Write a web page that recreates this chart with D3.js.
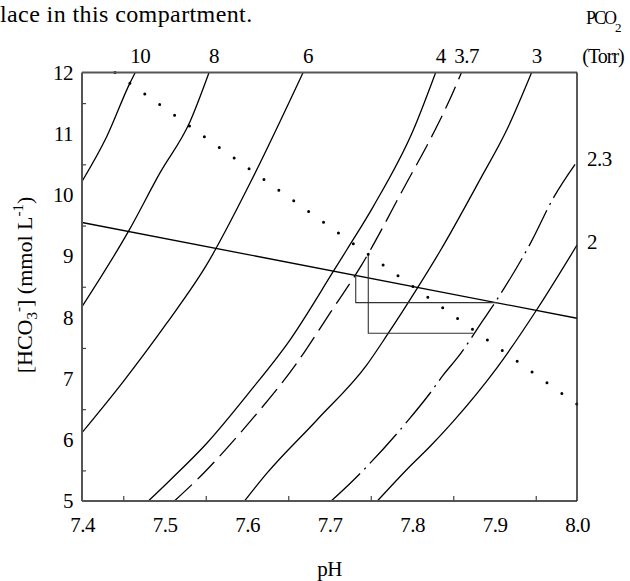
<!DOCTYPE html>
<html>
<head>
<meta charset="utf-8">
<script src="https://cdn.jsdelivr.net/npm/d3@7/dist/d3.min.js"></script>
<style>
  body { margin: 0; background: #fff; }
  svg { display: block; font-family: "Liberation Serif", "Times New Roman", serif; }
</style>
</head>
<body>
<svg id="chart" width="630" height="581"></svg>
<script>
// axis ticks
const phLabels = [7.4, 7.5, 7.6, 7.7, 7.8, 7.9, 8.0];
const phMinor = [7.45, 7.55, 7.65, 7.75, 7.85, 7.95];
const hcoLabels = [5, 6, 7, 8, 9, 10, 11, 12];
const hcoMinor = [5.5, 6.5, 7.5, 8.5, 9.5, 10.5, 11.5];

// PCO2 isopleths, [pH, HCO3-]
const iso10 = [[7.4, 10.22], [7.4299, 10.95], [7.4582, 11.83], [7.4646, 12]];
const iso8 = [[7.4, 8.175], [7.4561, 9.40], [7.4945, 10.36], [7.531, 11.2], [7.554, 12]];
const iso6 = [[7.4, 6.116], [7.45, 6.95], [7.5027, 7.904], [7.551, 8.857], [7.6036, 10.19], [7.668, 12]];
const iso4 = [[7.4804, 5], [7.5067, 5.34], [7.551, 5.94], [7.6036, 6.79], [7.652, 7.63], [7.7046, 8.75],
              [7.7208, 9.10], [7.753, 9.81], [7.8016, 11.06], [7.8287, 12]];
const iso37 = [[7.512, 5], [7.547, 5.45], [7.6036, 6.296], [7.6602, 7.25], [7.7006, 8.07], [7.739, 8.857],
               [7.7935, 10.2], [7.8218, 10.9], [7.8455, 11.55], [7.86, 12]];
const iso3 = [[7.597, 5], [7.6239, 5.45], [7.6845, 6.32], [7.745, 7.22], [7.7693, 7.7], [7.8057, 8.46],
              [7.8339, 9.08], [7.8824, 10.25], [7.9148, 11.06], [7.945, 12]];
const iso23 = [[7.702, 5], [7.7289, 5.34], [7.7955, 6.32], [7.8218, 6.76], [7.838, 7.06], [7.8561, 7.358],
               [7.8864, 7.958], [7.9027, 8.285], [7.944, 9.22], [7.9713, 9.95], [8.0, 10.545]];
const iso2 = [[7.758, 5], [7.797, 5.56], [7.8218, 5.89], [7.85, 6.30], [7.9027, 7.17], [7.951, 8.12], [8.0, 9.18]];

const isoNames = ['10', '8', '6', '4', '3.7', '3', '2.3', '2'];
const isoPoints = [iso10, iso8, iso6, iso4, iso37, iso3, iso23, iso2];
const topLabelled = ['10', '8', '6', '4', '3.7', '3'];
const sideLabelled = ['2.3', '2'];

// other lines
const bufferLine = [[7.4, 9.55], [8.0, 7.985]];
const dottedLine = [[7.44, 12], [8.0, 6.58]];
const dottedCount = 32;
const stepA = [[7.7318, 8.69], [7.7318, 8.24], [7.9027, 8.24]];
const stepB = [[7.747, 9.03], [7.747, 7.741], [7.8743, 7.741]];

const dashFor = { '3.7': '24,8', '2.3': '40,6,2,6' };

const svg = d3.select('#chart');
const mLeft = 82, mRight = 577, mTop = 72.5, mBottom = 501;

const x = d3.scaleLinear().domain([7.4, 8.0]).range([mLeft, mRight]);
const y = d3.scaleLinear().domain([5, 12]).range([mBottom, mTop]);

// text above the figure (cut from the page)
svg.append('text')
    .attr('x', 0).attr('y', 22)
    .style('font-size', '24px')
    .style('letter-spacing', '0.4px')
    .text('lace in this compartment.');

svg.append('clipPath').attr('id', 'plot-clip')
    .append('rect')
    .attr('x', mLeft).attr('y', mTop)
    .attr('width', mRight - mLeft).attr('height', mBottom - mTop);

const plot = svg.append('g').attr('clip-path', 'url(#plot-clip)');

const line = d3.line().x(d => x(d[0])).y(d => y(d[1]));
const smooth = d3.line().x(d => x(d[0])).y(d => y(d[1])).curve(d3.curveMonotoneX);

isoNames.forEach((name, i) => {
  plot.append('path')
      .attr('d', smooth(isoPoints[i]))
      .attr('fill', 'none')
      .attr('stroke', '#000')
      .attr('stroke-width', 1.3)
      .attr('stroke-dasharray', dashFor[name] || null);
});

plot.append('path')
    .attr('d', line(bufferLine))
    .attr('fill', 'none')
    .attr('stroke', '#000')
    .attr('stroke-width', 1.3);

[stepA, stepB].forEach(s => {
  plot.append('path')
      .attr('d', line(s))
      .attr('fill', 'none')
      .attr('stroke', '#333')
      .attr('stroke-width', 1.1);
});

const dots = svg.append('path')
    .attr('d', line(dottedLine))
    .attr('fill', 'none')
    .attr('stroke', '#000')
    .attr('stroke-width', 3)
    .attr('stroke-linecap', 'round');
const len = dots.node().getTotalLength();
dots.attr('stroke-dasharray', '0,' + (len / (dottedCount - 1) - 0.01));

// frame
svg.append('line').attr('x1', mLeft).attr('x2', mRight).attr('y1', mTop).attr('y2', mTop)
    .attr('stroke', '#555').attr('stroke-width', 2);
svg.append('line').attr('x1', mLeft).attr('x2', mRight).attr('y1', mBottom).attr('y2', mBottom)
    .attr('stroke', '#555').attr('stroke-width', 2);
svg.append('line').attr('x1', mLeft).attr('x2', mLeft).attr('y1', mTop).attr('y2', mBottom)
    .attr('stroke', '#555').attr('stroke-width', 2);
svg.append('line').attr('x1', mRight).attr('x2', mRight).attr('y1', mTop).attr('y2', mBottom)
    .attr('stroke', '#222').attr('stroke-width', 1.5);

// axes: minor ticks inside, labels outside
const xTicks = svg.append('g').attr('transform', `translate(0,${mBottom})`)
    .call(d3.axisBottom(x).tickValues(phMinor).tickSize(-5).tickFormat(''));
const xLabels = svg.append('g').attr('transform', `translate(0,${mBottom})`)
    .call(d3.axisBottom(x).tickValues(phLabels).tickSize(0).tickPadding(16).tickFormat(d3.format('.1f')));
const yTicks = svg.append('g').attr('transform', `translate(${mLeft},0)`)
    .call(d3.axisLeft(y).tickValues(hcoMinor).tickSize(-4).tickFormat(''));
const yLabels = svg.append('g').attr('transform', `translate(${mLeft},0)`)
    .call(d3.axisLeft(y).tickValues(hcoLabels).tickSize(0).tickPadding(9).tickFormat(d3.format('d')));

[xTicks, xLabels, yTicks, yLabels].forEach(g => {
  g.select('.domain').remove();
  g.selectAll('line').attr('stroke', '#444').attr('stroke-width', 1.2);
  g.selectAll('text')
      .attr('fill', '#000')
      .style('font-family', '"Liberation Serif", serif')
      .style('font-size', '21px')
      .style('letter-spacing', '-0.5px');
});

// PCO2 labels on the isopleths
topLabelled.forEach(name => {
  const pts = isoPoints[isoNames.indexOf(name)];
  const end = pts[pts.length - 1];
  svg.append('text')
      .attr('x', x(end[0]) + 5).attr('y', mTop - 10)
      .attr('text-anchor', 'middle')
      .style('font-size', '21px')
      .style('letter-spacing', '-0.5px')
      .text(name);
});
sideLabelled.forEach(name => {
  const pts = isoPoints[isoNames.indexOf(name)];
  const end = pts[pts.length - 1];
  svg.append('text')
      .attr('x', mRight + 10).attr('y', y(end[1]) + 4)
      .style('font-size', '21px')
      .style('letter-spacing', '-0.5px')
      .text(name);
});

svg.append('text')
    .attr('x', mRight + 26).attr('y', mTop - 10)
    .attr('text-anchor', 'middle')
    .style('font-size', '20px')
    .style('letter-spacing', '-1px')
    .text('(Torr)');

const pco = svg.append('text')
    .attr('x', 586).attr('y', 24)
    .style('font-size', '18px')
    .style('letter-spacing', '-2px');
pco.append('tspan').text('PCO');
pco.append('tspan').attr('dy', 8).style('font-size', '13px').text('2');

// axis titles
svg.append('text')
    .attr('x', (mLeft + mRight) / 2).attr('y', 576)
    .attr('text-anchor', 'middle')
    .style('font-size', '21px')
    .style('letter-spacing', '-0.5px')
    .text('pH');

const yTitle = svg.append('text')
    .attr('transform', 'translate(32,285) rotate(-90)')
    .attr('text-anchor', 'middle')
    .style('font-size', '22px');
yTitle.append('tspan').text('[HCO');
yTitle.append('tspan').attr('dy', 5).style('font-size', '15px').text('3');
yTitle.append('tspan').attr('dy', -14).style('font-size', '15px').text('-');
yTitle.append('tspan').attr('dy', 9).text('] (mmol L');
yTitle.append('tspan').attr('dy', -9).style('font-size', '15px').text('-1');
yTitle.append('tspan').attr('dy', 9).text(')');
</script>
</body>
</html>
